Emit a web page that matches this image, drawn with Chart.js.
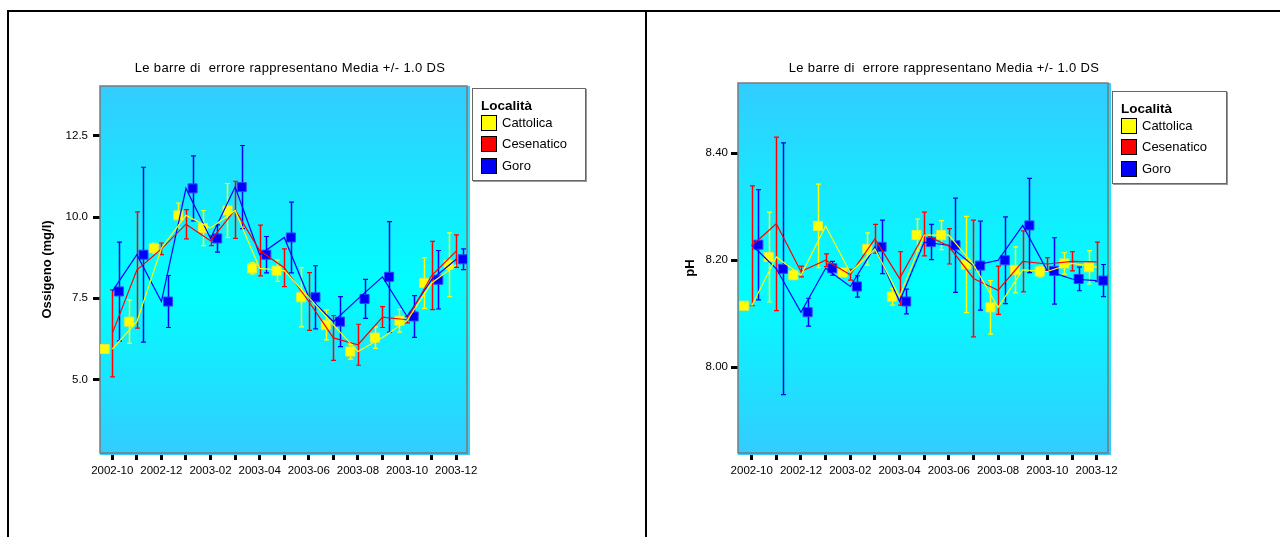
<!DOCTYPE html>
<html>
<head>
<meta charset="utf-8">
<script src="https://cdn.jsdelivr.net/npm/chart.js@4.4.1/dist/chart.umd.min.js"></script>
<style>
  body { margin: 0; width: 1280px; height: 537px; position: relative; overflow: hidden; background: #fff; font-family: Arial, "Liberation Sans", sans-serif; }
  .rule { position: absolute; background: #000; }
  canvas { position: absolute; top: 0; }
  .title { position: absolute; top: 60px; font-size: 13px; letter-spacing: 0.35px; white-space: pre; transform: translateX(-50%); color: #000; }
  .legend { position: absolute; border: 1px solid #666; background: #fff; box-shadow: 1px 1px 0 #999; font-size: 13px; color: #000; box-sizing: border-box; padding: 9px 0 0 8px; }
  .legend b { display: block; font-size: 13.5px; margin-bottom: 2px; }
  .legend div { height: 21.3px; line-height: 16px; }
  .legend span { display: inline-block; width: 14px; height: 14px; border: 1px solid #000; vertical-align: top; margin-right: 5px; }
</style>
</head>
<body>
<div class="rule" style="left:7px; top:10px; width:1273px; height:2px"></div>
<div class="rule" style="left:7px; top:10px; width:2px; height:527px"></div>
<div class="rule" style="left:645px; top:10px; width:2px; height:527px"></div>

<canvas id="oxy" width="646" height="537" style="left:0"></canvas>
<canvas id="ph" width="634" height="537" style="left:646px"></canvas>

<div class="title" style="left:290px">Le barre di  errore rappresentano Media +/- 1.0 DS</div>
<div class="title" style="left:944px">Le barre di  errore rappresentano Media +/- 1.0 DS</div>

<div class="legend" style="left:472px; top:88px; width:114px; height:93px">
  <b>Località</b>
  <div><span style="background:#ffff00"></span>Cattolica</div>
  <div><span style="background:#ff0000"></span>Cesenatico</div>
  <div><span style="background:#0000ff"></span>Goro</div>
</div>
<div class="legend" style="left:1112px; top:91px; width:115px; height:93px">
  <b>Località</b>
  <div><span style="background:#ffff00"></span>Cattolica</div>
  <div><span style="background:#ff0000"></span>Cesenatico</div>
  <div><span style="background:#0000ff"></span>Goro</div>
</div>

<script>
// mesi di campionamento (asse x)
const months = ['2002-10', '2002-11', '2002-12', '2003-01', '2003-02', '2003-03', '2003-04', '2003-05',
                '2003-06', '2003-07', '2003-08', '2003-09', '2003-10', '2003-11', '2003-12'];

// Ossigeno (mg/l): media e deviazione standard per località
const oxyCattolica   = [5.94, 6.78, 9.04, 10.05, 9.66, 10.20, 8.42, 8.35, 7.53, 6.68, 5.86, 6.29, 6.81, 7.97, 8.53];
const oxyCattolicaSd = [0, 0.67, 0.15, 0.38, 0.54, 0.83, 0.17, 0.33, 0.91, 0.46, 0.23, 0.33, 0.35, 0.78, 0.98];
const oxyCesenatico   = [6.42, 8.37, 9.02, 9.78, 9.27, 10.22, 8.97, 8.44, 7.40, 6.28, 6.07, 6.92, 6.84, 8.20, 8.95];
const oxyCesenaticoSd = [1.34, 1.79, 0.18, 0.45, 0.15, 0.88, 0.78, 0.58, 0.89, 0.69, 0.63, 0.32, 0.10, 1.05, 0.50];
const oxyGoro   = [7.71, 8.84, 7.40, 10.88, 9.34, 10.92, 8.84, 9.37, 7.53, 6.78, 7.48, 8.16, 6.94, 8.07, 8.70];
const oxyGoroSd = [1.52, 2.69, 0.80, 1.00, 0.42, 1.28, 0.56, 1.09, 0.97, 0.77, 0.60, 1.70, 0.64, 0.90, 0.32];
const oxyTicks = [5.0, 7.5, 10.0, 12.5];

// pH: media e deviazione standard per località
const phCattolica   = [8.115, 8.206, 8.172, 8.264, 8.177, 8.221, 8.132, 8.247, 8.247, 8.192, 8.112, 8.182, 8.179, 8.194, 8.187];
const phCattolicaSd = [0, 0.084, 0.008, 0.078, 0.006, 0.030, 0.016, 0.030, 0.027, 0.090, 0.050, 0.043, 0.010, 0.020, 0.031];
const phCesenatico   = [8.227, 8.268, 8.179, 8.200, 8.173, 8.240, 8.166, 8.249, 8.226, 8.166, 8.144, 8.198, 8.193, 8.198, 8.197];
const phCesenaticoSd = [0.112, 0.162, 0.010, 0.012, 0.010, 0.027, 0.050, 0.041, 0.033, 0.109, 0.045, 0.057, 0.012, 0.018, 0.037];
const phGoro   = [8.229, 8.184, 8.103, 8.185, 8.151, 8.225, 8.123, 8.234, 8.228, 8.190, 8.200, 8.265, 8.180, 8.165, 8.162];
const phGoroSd = [0.103, 0.235, 0.026, 0.013, 0.020, 0.050, 0.023, 0.033, 0.088, 0.083, 0.081, 0.088, 0.062, 0.022, 0.030];
const phTicks = [8.00, 8.20, 8.40];

const FONT = 'Arial, "Liberation Sans", sans-serif';
const YELLOW = '#ffff00', RED = '#ff0000', BLUE = '#0000ff';
const OFF_Y = -0.31, OFF_B = 0.27; // spostamento dei marcatori rispetto al mese

const pts = (arr, off = 0) => arr.map((v, i) => ({ x: i + off, y: v }));

// sfondo sfumato dell'area del grafico + barre di errore
const plotDecor = {
  id: 'plotDecor',
  beforeDatasetsDraw(chart) {
    const { ctx, chartArea: a, scales } = chart;
    ctx.save();
    const g = ctx.createLinearGradient(0, a.top, 0, a.bottom);
    g.addColorStop(0, '#33ccff');
    g.addColorStop(0.55, '#00ffff');
    g.addColorStop(1, '#33ccff');
    ctx.fillStyle = g;
    ctx.fillRect(a.left, a.top, a.right - a.left + 3, a.bottom - a.top + 2);
    ctx.strokeStyle = '#7a7a7a';
    ctx.lineWidth = 1.5;
    ctx.strokeRect(a.left, a.top, a.right - a.left, a.bottom - a.top);

    chart.options.plugins.plotDecor.bars.forEach(b => {
      ctx.strokeStyle = b.color;
      b.mean.forEach((m, i) => {
        const sd = b.sd[i];
        if (!sd) return;
        const x = Math.round(scales.x.getPixelForValue(i + b.off)) + 0.5;
        const y1 = scales.y.getPixelForValue(m + sd);
        const y2 = scales.y.getPixelForValue(m - sd);
        ctx.lineWidth = 1.5;
        ctx.beginPath();
        ctx.moveTo(x, y1); ctx.lineTo(x, y2);
        ctx.stroke();
        ctx.lineWidth = 1.2;
        ctx.beginPath();
        ctx.moveTo(x - 2.5, y1); ctx.lineTo(x + 2.5, y1);
        ctx.moveTo(x - 2.5, y2); ctx.lineTo(x + 2.5, y2);
        ctx.stroke();
      });
    });
    ctx.restore();
  }
};

const buildChart = (id, cfg) => {
  const lineSet = (data, color) => ({ data: pts(data), borderColor: color, borderWidth: 1.2, pointRadius: 0, tension: 0, fill: false });
  const markSet = (data, off, fill, edge) => ({ data: pts(data, off), showLine: false, pointStyle: 'rect', pointRadius: 6.4,
    backgroundColor: fill, borderColor: edge, borderWidth: 1 });

  return new Chart(document.getElementById(id), {
    type: 'line',
    data: {
      datasets: [
        lineSet(cfg.yellow, YELLOW),
        lineSet(cfg.red, RED),
        lineSet(cfg.blue, BLUE),
        markSet(cfg.yellow, OFF_Y, YELLOW, '#e8e840'),
        markSet(cfg.blue, OFF_B, BLUE, '#3344ff')
      ]
    },
    options: {
      responsive: false,
      animation: false,
      devicePixelRatio: 1,
      layout: { padding: cfg.padding },
      plugins: {
        legend: { display: false },
        tooltip: { enabled: false },
        plotDecor: {
          bars: [
            { mean: cfg.yellow, sd: cfg.yellowSd, off: OFF_Y, color: YELLOW },
            { mean: cfg.red, sd: cfg.redSd, off: 0, color: RED },
            { mean: cfg.blue, sd: cfg.blueSd, off: OFF_B, color: BLUE }
          ]
        }
      },
      scales: {
        x: {
          type: 'linear',
          min: cfg.xMin, max: cfg.xMax,
          afterBuildTicks: s => { s.ticks = months.map((_, i) => ({ value: i })); },
          afterFit: s => { s.height = 30; },
          ticks: {
            autoSkip: false, maxRotation: 0, padding: 4,
            color: '#000', font: { family: FONT, size: 11.5 },
            callback: v => (v % 2 === 0 ? months[v] : '')
          },
          grid: { drawOnChartArea: false, drawTicks: true, tickLength: 7, tickColor: '#000', tickWidth: 3 },
          border: { display: false }
        },
        y: {
          min: cfg.yMin, max: cfg.yMax,
          afterBuildTicks: s => { s.ticks = cfg.ticks.map(v => ({ value: v })); },
          afterFit: s => { s.width = cfg.axisWidth; },
          ticks: { color: '#000', padding: cfg.tickPad, font: { family: FONT, size: 11.5 }, callback: v => v.toFixed(cfg.digits) },
          grid: { drawOnChartArea: false, drawTicks: true, tickLength: 7, tickColor: '#000', tickWidth: 3 },
          border: { display: false },
          title: { display: true, text: cfg.yTitle, color: '#000', font: { family: FONT, size: 13, weight: 'bold' }, padding: { top: 4, bottom: 4 } }
        }
      }
    },
    plugins: [plotDecor]
  });
};

buildChart('oxy', {
  yellow: oxyCattolica, yellowSd: oxyCattolicaSd,
  red: oxyCesenatico, redSd: oxyCesenaticoSd,
  blue: oxyGoro, blueSd: oxyGoroSd,
  ticks: oxyTicks, digits: 1, yTitle: 'Ossigeno (mg/l)',
  yMin: 2.74, yMax: 14.03, xMin: -0.5, xMax: 14.44,
  axisWidth: 64, tickPad: 5,
  padding: { left: 36, top: 86, right: 179, bottom: 54 }
});

buildChart('ph', {
  yellow: phCattolica, yellowSd: phCattolicaSd,
  red: phCesenatico, redSd: phCesenaticoSd,
  blue: phGoro, blueSd: phGoroSd,
  ticks: phTicks, digits: 2, yTitle: 'pH',
  yMin: 7.840, yMax: 8.531, xMin: -0.556, xMax: 14.46,
  axisWidth: 59, tickPad: 3,
  padding: { left: 33, top: 83, right: 172, bottom: 54 }
});
</script>
</body>
</html>
